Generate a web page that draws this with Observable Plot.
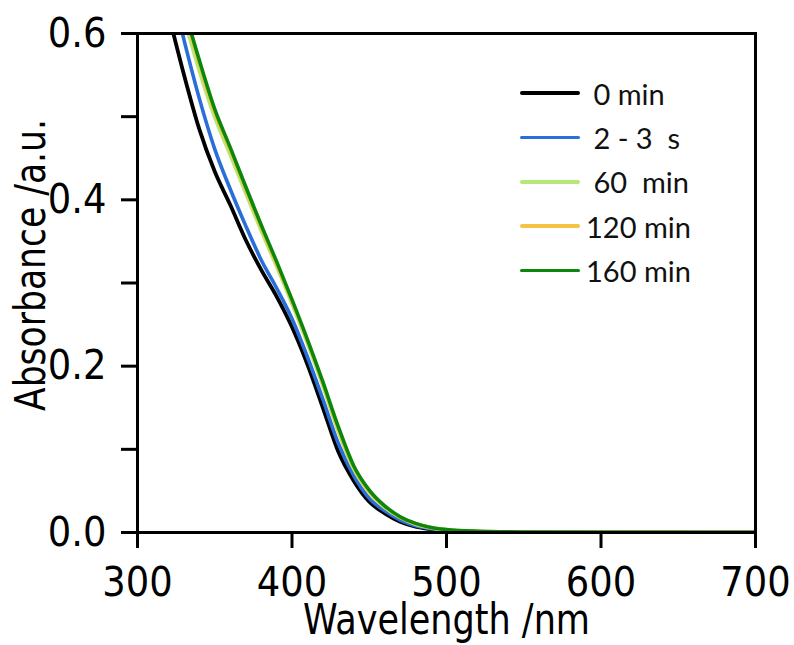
<!DOCTYPE html>
<html><head><meta charset="utf-8">
<script src="https://cdn.jsdelivr.net/npm/d3@7"></script>
<script src="https://cdn.jsdelivr.net/npm/@observablehq/plot@0.6"></script>
<style>
body{margin:0;background:#fff;}
#wrap{position:relative;width:794px;height:645px;overflow:hidden;}
.lg{position:absolute;left:520px;height:40px;display:flex;align-items:center;font-family:Lato,'Open Sans',sans-serif;font-size:29px;color:#111;white-space:pre;}
.lg .sw{width:60px;height:3.5px;border-radius:2px;}
.lg span{margin-left:6px;}
</style></head><body><div id="wrap"></div>
<script>
// Wavelength grid (nm)
const wavelengths = [320,330,340,350,360,370,380,390,400,410,420,430,440,450,460,470,480,490,500,520,550,600,650,700];
// Absorbance values per series
const abs0min   = [0.624,0.551,0.485,0.434,0.394,0.352,0.316,0.284,0.247,0.202,0.150,0.097,0.062,0.037,0.023,0.013,0.007,0.004,0.002,0.0008,0.0003,0.0001,0,0];
const abs2to3s  = [0.670,0.593,0.522,0.461,0.413,0.369,0.328,0.294,0.257,0.211,0.160,0.107,0.068,0.041,0.026,0.015,0.008,0.0045,0.0025,0.001,0.0004,0.0001,0,0];
const abs60min  = [0.685,0.619,0.555,0.499,0.454,0.408,0.363,0.320,0.275,0.227,0.176,0.121,0.076,0.048,0.030,0.018,0.010,0.0055,0.003,0.0013,0.0005,0.0002,0.0001,0];
const abs120min = [0.695,0.627,0.564,0.505,0.460,0.413,0.367,0.323,0.278,0.230,0.179,0.124,0.078,0.049,0.031,0.0185,0.0105,0.006,0.0033,0.0014,0.0006,0.0002,0.0001,0];
const abs160min = [0.700,0.632,0.568,0.509,0.463,0.416,0.370,0.326,0.280,0.232,0.181,0.127,0.080,0.051,0.032,0.019,0.011,0.006,0.0035,0.0015,0.0006,0.0002,0.0001,0];

const seriesNames  = ["0 min","2 - 3  s","60  min","120 min","160 min"];
const legendLabels = [" 0 min"," 2 - 3  s"," 60  min","120 min","160 min"];
const seriesColors = ["#000000","#2a6fd9","#b6e878","#f5c244","#0b870b"];
const seriesValues = [abs0min, abs2to3s, abs60min, abs120min, abs160min];

const xTicks = [300,400,500,600,700];
const yTicks = [0,0.1,0.2,0.3,0.4,0.5,0.6];
const yTickLabels = ["0.0","","0.2","","0.4","","0.6"];
const xTitle = "Wavelength /nm";
const yTitle = "Absorbance /a.u.";

const axisFont = "'Liberation Sans Narrow','Arial Narrow','DejaVu Sans Condensed',sans-serif";

const lineMarks = seriesNames.map((name, s) =>
  Plot.line(wavelengths.map((w, i) => ({wl: w, a: seriesValues[s][i], series: name})), {
    x: "wl", y: "a", stroke: seriesColors[s], strokeWidth: s === 0 ? 3.8 : 3.6,
    curve: "monotone-x", clip: true
  })
);

const chart = Plot.plot({
  width: 794, height: 645,
  marginLeft: 137, marginRight: 39, marginTop: 33, marginBottom: 113,
  style: {fontFamily: axisFont, background: "#fff", color: "#000", overflow: "visible"},
  x: {domain: [300, 700]},
  y: {domain: [0, 0.6]},
  marks: [
    ...lineMarks,
    Plot.frame({strokeWidth: 3, stroke: "#000"}),
    Plot.axisX({ticks: xTicks, tickSize: 16, tickPadding: 18, strokeWidth: 3, fontSize: 41, label: null, tickFormat: d => String(d)}),
    Plot.axisY({ticks: yTicks, tickSize: 16, tickPadding: 15, strokeWidth: 3, fontSize: 41, label: null,
      tickFormat: d => yTickLabels[yTicks.indexOf(d)]}),
    Plot.text([xTitle], {frameAnchor: "bottom", dy: 88, fontSize: 43, lineAnchor: "middle", textAnchor: "middle", fill: "#000", className: "xtitle"}),
    Plot.text([yTitle], {frameAnchor: "left", dx: -106, dy: -18, rotate: -90, fontSize: 43, lineAnchor: "middle", textAnchor: "middle", fill: "#000", className: "ytitle"})
  ]
});
// condense the axis titles to the reference's narrow lettering
chart.querySelectorAll(".xtitle text").forEach(t => { t.setAttribute("textLength", 287); t.setAttribute("lengthAdjust", "spacingAndGlyphs"); });
chart.querySelectorAll(".ytitle text").forEach(t => { t.setAttribute("textLength", 292); t.setAttribute("lengthAdjust", "spacingAndGlyphs"); });
const wrap = document.getElementById("wrap");
wrap.appendChild(chart);

legendLabels.forEach((lab, i) => {
  const row = document.createElement("div");
  row.className = "lg";
  row.style.top = (93 + i * 44.4 - 20) + "px";
  const sw = document.createElement("div");
  sw.className = "sw";
  sw.style.background = seriesColors[i];
  const sp = document.createElement("span");
  sp.textContent = lab;
  row.appendChild(sw); row.appendChild(sp);
  wrap.appendChild(row);
});
</script></body></html>
